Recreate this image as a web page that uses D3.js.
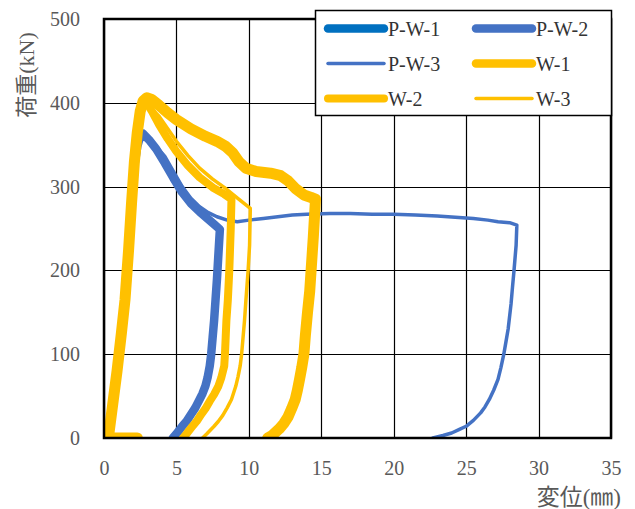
<!DOCTYPE html>
<html>
<head>
<meta charset="utf-8">
<script src="https://cdn.jsdelivr.net/npm/d3@7"></script>
<style>
  body { margin: 0; background: #fff; }
  svg { display: block; }
</style>
</head>
<body>
<div id="chart"></div>
<script>
const xTicks = [0, 5, 10, 15, 20, 25, 30, 35];
const yTicks = [0, 100, 200, 300, 400, 500];
const seriesNames = ["P-W-1", "P-W-2", "P-W-3", "W-1", "W-2", "W-3"];

// [displacement mm, load kN]
const pw1 = [];
const pw2 = [
  [0.3, 0], [0.6, 40], [0.9, 80], [1.2, 125], [1.45, 165], [1.7, 225], [1.9, 280], [2.1, 325],
  [2.3, 348], [2.5, 360], [2.7, 363], [3.1, 356], [3.6, 345], [4.2, 328], [4.8, 310], [5.4, 293],
  [6.0, 280], [6.6, 270], [7.2, 261], [7.6, 255], [8.0, 249], [7.9, 220], [7.8, 190], [7.7, 165],
  [7.6, 140], [7.5, 120], [7.4, 100], [7.3, 86], [7.15, 72], [7.0, 62], [6.8, 53], [6.6, 46],
  [6.3, 36], [6.0, 28], [5.7, 20], [5.4, 14], [5.0, 5], [4.75, 0]
];
const pw3 = [
  [0.3, 0], [0.6, 40], [0.9, 80], [1.2, 125], [1.45, 165], [1.7, 225], [1.9, 280], [2.1, 320],
  [2.3, 342], [2.5, 354], [2.7, 357], [3.1, 355], [3.6, 348], [4.2, 336], [4.8, 318], [5.4, 300],
  [6.0, 286], [6.6, 276], [7.2, 269], [7.8, 264], [8.5, 260], [9.2, 258], [10, 260], [11, 262],
  [12, 264], [13, 266], [14, 267], [15.6, 268], [17, 268], [18.5, 267], [20, 267], [21.5, 266],
  [23, 265], [24.5, 263], [25.5, 262], [26.5, 260], [27.2, 258], [28, 257], [28.5, 254],
  [28.45, 230], [28.3, 199], [28.2, 180], [28.1, 160], [27.9, 130], [27.75, 115], [27.6, 100],
  [27.4, 84], [27.2, 70], [26.9, 57], [26.6, 46], [26.3, 37], [26, 30], [25.5, 21], [25, 14],
  [24.5, 10], [24, 6], [23.4, 3], [22.7, 0]
];
const w1 = [
  [2.3, 0], [0.3, 0], [0.6, 40], [0.9, 80], [1.2, 125], [1.45, 165], [1.7, 225], [1.9, 280],
  [2.1, 330], [2.3, 365], [2.5, 390], [2.7, 402], [2.95, 406], [3.3, 404], [3.8, 397], [4.4, 388],
  [5, 380], [6, 369], [7, 360], [7.8, 354], [8.4, 348], [8.9, 340], [9.3, 330], [9.8, 322],
  [10.5, 318], [11.5, 316], [12.2, 313], [12.7, 307], [13.2, 298], [13.8, 290], [14.3, 287],
  [14.6, 285], [14.45, 240], [14.3, 201], [14.2, 175], [14.05, 150], [13.9, 122], [13.8, 100],
  [13.65, 84], [13.5, 70], [13.35, 57], [13.2, 46], [12.95, 35], [12.7, 25], [12.4, 17],
  [12.1, 11], [11.6, 3], [11.3, 0]
];
const w2 = [
  [0.3, 0], [0.6, 40], [0.9, 80], [1.2, 125], [1.45, 165], [1.7, 225], [1.9, 280], [2.1, 330],
  [2.3, 362], [2.5, 386], [2.7, 398], [2.9, 401], [3.3, 390], [3.8, 374], [4.4, 357], [5, 342],
  [5.8, 325], [6.6, 311], [7.5, 299], [8.3, 291], [8.8, 285], [8.75, 250], [8.65, 200],
  [8.55, 165], [8.45, 140], [8.4, 120], [8.35, 100], [8.3, 86], [8.1, 72], [7.9, 62], [7.6, 52],
  [7.3, 44], [7.0, 35], [6.7, 28], [6.4, 20], [6.1, 14], [5.7, 5], [5.45, 0]
];
const w3 = [
  [0.3, 0], [0.6, 40], [0.9, 80], [1.2, 125], [1.45, 165], [1.7, 225], [1.9, 280], [2.1, 328],
  [2.3, 360], [2.5, 383], [2.7, 395], [2.9, 398], [3.3, 393], [3.8, 384], [4.4, 369], [5, 354],
  [5.8, 337], [6.6, 322], [7.5, 309], [8.3, 299], [9.3, 285], [10.1, 274], [10.05, 230],
  [9.95, 200], [9.8, 165], [9.7, 140], [9.6, 120], [9.5, 100], [9.4, 86], [9.25, 73], [9.1, 62],
  [8.8, 46], [8.5, 36], [8.2, 27], [7.9, 20], [7.6, 14], [7.1, 5], [6.8, 0]
];

const seriesData = [pw1, pw2, pw3, w1, w2, w3];
const colors = ["#0070C0", "#4472C4", "#4472C4", "#FFC000", "#FFC000", "#FFC000"];
const widths = [9, 8.5, 3.5, 11, 8, 3.5];

const width = 635, height = 509;
const margin = { top: 19, right: 24, bottom: 70, left: 104 };
const font = "'Liberation Serif', 'Noto Sans CJK JP', serif";

const svg = d3
  .select("#chart")
  .append("svg")
  .attr("width", width)
  .attr("height", height);

const x = d3.scaleLinear().domain([0, 35]).range([margin.left, width - margin.right]);
const y = d3.scaleLinear().domain([0, 500]).range([height - margin.bottom - 1, margin.top]);

//grid
svg
  .append("g")
  .selectAll("line")
  .data(xTicks)
  .join("line")
  .attr("x1", (d) => Math.round(x(d)) + 0.5)
  .attr("x2", (d) => Math.round(x(d)) + 0.5)
  .attr("y1", y(500))
  .attr("y2", y(0))
  .attr("stroke", "#000")
  .attr("stroke-width", 1.2);

svg
  .append("g")
  .selectAll("line")
  .data(yTicks)
  .join("line")
  .attr("x1", x(0))
  .attr("x2", x(35))
  .attr("y1", (d) => Math.round(y(d)) + 0.5)
  .attr("y2", (d) => Math.round(y(d)) + 0.5)
  .attr("stroke", "#000")
  .attr("stroke-width", 1.2);

//clip to plot area
svg
  .append("clipPath")
  .attr("id", "plot-clip")
  .append("rect")
  .attr("x", x(0))
  .attr("y", y(500))
  .attr("width", x(35) - x(0))
  .attr("height", y(0) - y(500));

const line = d3
  .line()
  .x((d) => x(d[0]))
  .y((d) => y(d[1]));

svg
  .append("g")
  .attr("clip-path", "url(#plot-clip)")
  .selectAll("path")
  .data(seriesData)
  .join("path")
  .attr("d", (d) => (d.length ? line(d) : null))
  .attr("fill", "none")
  .attr("stroke", (d, i) => colors[i])
  .attr("stroke-width", (d, i) => widths[i])
  .attr("stroke-linejoin", "round")
  .attr("stroke-linecap", "round");

//plot border
svg
  .append("rect")
  .attr("x", x(0))
  .attr("y", y(500))
  .attr("width", x(35) - x(0))
  .attr("height", y(0) - y(500))
  .attr("fill", "none")
  .attr("stroke", "#000")
  .attr("stroke-width", 2.5);

//axes (labels only)
const xAxis = svg
  .append("g")
  .attr("transform", `translate(0, ${y(0) + 20})`)
  .call(d3.axisBottom(x).tickValues(xTicks).tickSize(0).tickFormat(d3.format("d")));
xAxis.select(".domain").remove();
xAxis
  .selectAll("text")
  .attr("fill", "#595959")
  .style("font-family", font)
  .style("font-size", "20px");

const yAxis = svg
  .append("g")
  .attr("transform", `translate(${x(0) - 21}, 0)`)
  .call(d3.axisLeft(y).tickValues(yTicks).tickSize(0).tickFormat(d3.format("d")));
yAxis.select(".domain").remove();
yAxis
  .selectAll("text")
  .attr("fill", "#595959")
  .style("font-family", font)
  .style("font-size", "20px");

//axis titles
svg
  .append("text")
  .attr("transform", "translate(34, 75) rotate(-90)")
  .attr("text-anchor", "middle")
  .attr("fill", "#595959")
  .style("font-family", font)
  .style("font-size", "22px")
  .text("荷重(kN)");

svg
  .append("text")
  .attr("x", 621)
  .attr("y", 505)
  .attr("text-anchor", "end")
  .attr("fill", "#595959")
  .style("font-family", font)
  .style("font-size", "23px")
  .text("変位(㎜)");

//legend
const legend = svg.append("g");
legend
  .append("rect")
  .attr("x", 315.5)
  .attr("y", 10.5)
  .attr("width", 296)
  .attr("height", 105)
  .attr("fill", "#fff")
  .attr("stroke", "#000")
  .attr("stroke-width", 1.5);

const items = legend
  .selectAll("g.item")
  .data(seriesNames)
  .join("g")
  .attr("class", "item")
  .attr("transform", (d, i) => `translate(${i % 2 === 0 ? 328 : 476}, ${28.5 + Math.floor(i / 2) * 35})`);

items
  .append("line")
  .attr("x1", 0)
  .attr("x2", 56)
  .attr("stroke", (d, i) => colors[i])
  .attr("stroke-width", (d, i) => Math.min(widths[i], 8.5))
  .attr("stroke-linecap", "round");

items
  .append("text")
  .attr("x", 60)
  .attr("dy", "0.35em")
  .attr("fill", "#333")
  .style("font-family", font)
  .style("font-size", "20px")
  .text((d) => d);
</script>
</body>
</html>
